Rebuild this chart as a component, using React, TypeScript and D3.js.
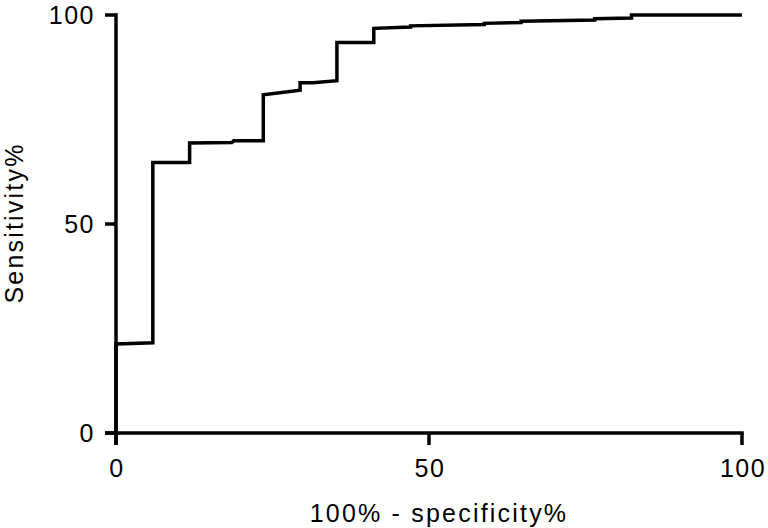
import React from "react";
import * as d3 from "d3";

const fprValues = [0, 0, 5.88, 5.88, 11.76, 11.76, 18.5, 18.8, 23.53, 23.53, 29.41, 29.41, 31.5, 35.29, 35.29, 41.18, 41.18, 47.06, 47.06, 58.82, 58.82, 64.71, 64.71, 76.47, 76.47, 82.35, 82.35, 100];
const sensValues = [0, 21.3, 21.6, 64.7, 64.7, 69.4, 69.5, 69.9, 69.9, 80.9, 82.0, 83.8, 83.8, 84.3, 93.4, 93.4, 96.8, 97.1, 97.4, 97.7, 98.0, 98.2, 98.5, 98.8, 99.1, 99.3, 100, 100];
const xTicks = [0, 50, 100];
const yTicks = [0, 50, 100];
const xTitle = "100% - specificity%";
const yTitle = "Sensitivity%";

const W = 768;
const H = 528;
const left = 116;
const right = 742;
const top = 15;
const bottom = 433;

export default function App() {
  const x = d3.scaleLinear().domain([0, 100]).range([left, right]);
  const y = d3.scaleLinear().domain([0, 100]).range([bottom, top]);
  const pts: [number, number][] = fprValues.map((f, i) => [f, sensValues[i]]);
  const line = d3
    .line<[number, number]>()
    .x((d) => x(d[0]))
    .y((d) => y(d[1]));
  const font = "'Liberation Sans', Arial, Helvetica, sans-serif";
  return (
    <svg
      width={W}
      height={H}
      style={{ position: "absolute", left: 0, top: 0, background: "#fff" }}
      fontFamily={font}
    >
      <rect x={0} y={0} width={W} height={H} fill="#fff" />
      {/* curve */}
      <path d={line(pts) || ""} fill="none" stroke="#000" strokeWidth={3.5} strokeLinejoin="miter" />
      {/* y axis */}
      <line x1={x(0)} x2={x(0)} y1={y(0) + 12} y2={y(100) - 1.75} stroke="#000" strokeWidth={3.5} />
      {yTicks.map((t) => (
        <g key={"y" + t}>
          <line x1={x(0) - 11} x2={x(0)} y1={y(t)} y2={y(t)} stroke="#000" strokeWidth={3.5} />
          <text x={95} y={y(t) + 9} textAnchor="end" fontSize={25} letterSpacing={1.5} fill="#000">
            {t}
          </text>
        </g>
      ))}
      {/* x axis */}
      <line x1={x(0) - 11} x2={x(100) + 1.75} y1={y(0)} y2={y(0)} stroke="#000" strokeWidth={3.5} />
      {xTicks.map((t) => (
        <g key={"x" + t}>
          <line x1={x(t)} x2={x(t)} y1={y(0)} y2={y(0) + 12} stroke="#000" strokeWidth={3.5} />
          <text x={x(t) + 1} y={477} textAnchor="middle" fontSize={25} letterSpacing={1.5} fill="#000">
            {t}
          </text>
        </g>
      ))}
      <text x={439} y={522} textAnchor="middle" fontSize={25} letterSpacing={2.2} fill="#000">
        {xTitle}
      </text>
      <text
        transform={`translate(23, 223) rotate(-90)`}
        textAnchor="middle"
        fontSize={25}
        letterSpacing={2.2}
        fill="#000"
      >
        {yTitle}
      </text>
    </svg>
  );
}
